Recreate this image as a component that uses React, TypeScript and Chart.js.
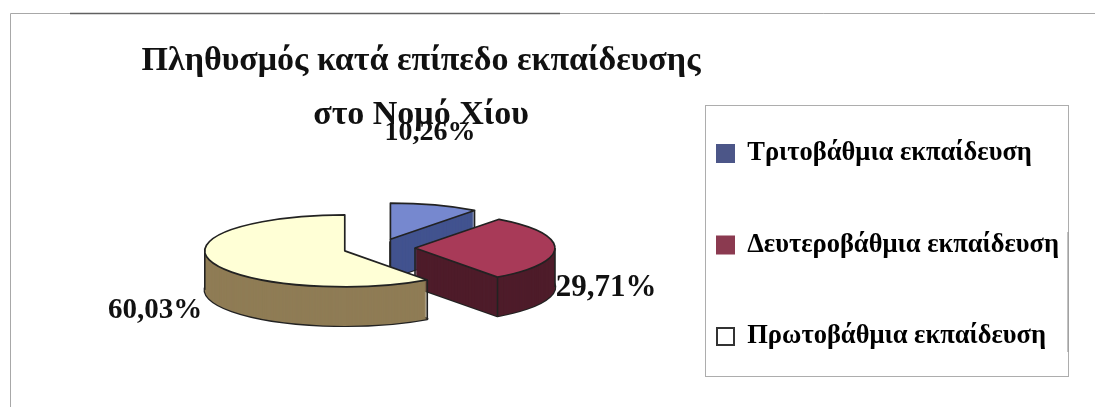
import React, { useEffect, useRef } from "react";
import { Chart, registerables } from "chart.js";

Chart.register(...registerables);

const categories = ["Τριτοβάθμια εκπαίδευση", "Δευτεροβάθμια εκπαίδευση", "Πρωτοβάθμια εκπαίδευση"];
const shares = [10.26, 29.71, 60.03];
const shareLabels = ["10,26%", "29,71%", "60,03%"];
const titleLines = ["Πληθυσμός κατά επίπεδο εκπαίδευσης", "στο Νομό Χίου"];

const topColors = ["#7688cf", "#a83a58", "#ffffd6"];
const wallColors = ["#42538f", "#4e1c2a", "#8f7c55"];
const legendSwatches = ["#4c5688", "#8b3a50", "#ffffff"];
const legendBorders = ["#4c5688", "#8b3a50", "#333333"];

const FONT = "'Liberation Serif', 'Times New Roman', serif";
const CENTER = { x: 379, y: 248 };
const SQUASH = 36 / 140;
const EXPLODE = 36;
const DEPTH = 39;
const LABEL_POS = [
  { x: 430, y: 133, size: 28 },
  { x: 606, y: 288, size: 31 },
  { x: 155, y: 311, size: 29 },
];

const pie3d = {
  id: "pie3d",
  afterLayout(chart: any) {
    const t = chart.titleBlock;
    t.left = 0;
    t.right = 842;
    const l = chart.legend;
    const pad = l.options.labels.padding;
    const dx = 717 - (l.left + pad);
    const dy = 245 - (l.top + l.bottom) / 2;
    l.left += dx;
    l.right += dx;
    l.top += dy;
    l.bottom += dy;
  },
  beforeDatasetsDraw(chart: any) {
    const ctx = chart.ctx as CanvasRenderingContext2D;
    const arcs = chart.getDatasetMeta(0).data;
    arcs.forEach((arc: any, i: number) => {
      const { startAngle, endAngle, outerRadius: r } = arc;
      const mid = (startAngle + endAngle) / 2;
      const cx = CENTER.x + Math.cos(mid) * EXPLODE;
      const cy = CENTER.y + Math.sin(mid) * EXPLODE * SQUASH;
      const ry = r * SQUASH;
      const wedge = (dy: number) => {
        ctx.beginPath();
        ctx.moveTo(cx, cy + dy);
        ctx.ellipse(cx, cy + dy, r, ry, 0, startAngle, endAngle);
        ctx.closePath();
      };
      ctx.save();
      ctx.lineJoin = "round";
      // outline of the lower face
      ctx.strokeStyle = "#222222";
      ctx.lineWidth = 2.4;
      wedge(DEPTH);
      ctx.stroke();
      // side walls
      ctx.fillStyle = wallColors[i];
      for (let d = DEPTH; d >= 0; d--) {
        wedge(d);
        ctx.fill();
      }
      // vertical edges on the visible corners
      ctx.lineWidth = 1.6;
      const vline = (x: number, y: number) => {
        ctx.beginPath();
        ctx.moveTo(x, y);
        ctx.lineTo(x, y + DEPTH);
        ctx.stroke();
      };
      const at = (a: number) => [cx + r * Math.cos(a), cy + ry * Math.sin(a)];
      const startWall = Math.cos(startAngle) < -1e-6;
      const endWall = Math.cos(endAngle) > 1e-6;
      if (startWall || endWall) vline(cx, cy);
      if (startWall || Math.sin(startAngle) > 0) vline(at(startAngle)[0], at(startAngle)[1]);
      if (endWall || Math.sin(endAngle) > 0) vline(at(endAngle)[0], at(endAngle)[1]);
      [0, Math.PI, 2 * Math.PI].forEach((a) => {
        if (a > startAngle && a < endAngle) vline(at(a)[0], at(a)[1]);
      });
      ctx.restore();

      // upper face: the library's own arc, squashed into perspective
      ctx.save();
      ctx.translate(cx, cy);
      ctx.scale(1, SQUASH);
      ctx.translate(-arc.x, -arc.y);
      arc.draw(ctx);
      ctx.restore();

      ctx.save();
      ctx.strokeStyle = "#222222";
      ctx.lineWidth = 1.7;
      ctx.lineJoin = "round";
      wedge(0);
      ctx.stroke();
      ctx.restore();
    });
    return false;
  },
  afterDraw(chart: any) {
    const ctx = chart.ctx as CanvasRenderingContext2D;
    ctx.save();
    // page frame
    ctx.strokeStyle = "#a8a8a8";
    ctx.lineWidth = 1;
    ctx.beginPath();
    ctx.moveTo(10.5, 407);
    ctx.lineTo(10.5, 13.5);
    ctx.lineTo(1095, 13.5);
    ctx.stroke();
    ctx.strokeStyle = "#606060";
    ctx.lineWidth = 1.5;
    ctx.beginPath();
    ctx.moveTo(70, 13.5);
    ctx.lineTo(560, 13.5);
    ctx.stroke();
    // legend frame
    ctx.strokeStyle = "#adadad";
    ctx.lineWidth = 1;
    ctx.strokeRect(705.5, 105.5, 363, 271);
    ctx.strokeStyle = "#9a9a9a";
    ctx.lineWidth = 1.2;
    ctx.beginPath();
    ctx.moveTo(1068, 232);
    ctx.lineTo(1068, 352);
    ctx.stroke();
    // share labels
    ctx.fillStyle = "#111";
    ctx.textAlign = "center";
    ctx.textBaseline = "middle";
    shareLabels.forEach((s, i) => {
      ctx.font = `bold ${LABEL_POS[i].size}px ${FONT}`;
      ctx.fillText(s, LABEL_POS[i].x, LABEL_POS[i].y);
    });
    ctx.restore();
  },
};

export default function App() {
  const ref = useRef<HTMLCanvasElement>(null);
  useEffect(() => {
    document.body.style.margin = "0";
    document.body.style.background = "#ffffff";
    const chart = new Chart(ref.current!, {
      type: "pie",
      data: {
        labels: categories,
        datasets: [{ data: shares, backgroundColor: topColors, borderWidth: 0 }],
      },
      options: {
        animation: false,
        responsive: false,
        radius: 140,
        plugins: {
          tooltip: { enabled: false },
          title: {
            display: true,
            text: titleLines,
            color: "#111",
            font: { family: FONT, size: 34, weight: "bold", lineHeight: 1.57 },
            padding: { top: 35, bottom: 0 },
          },
          legend: {
            position: "right",
            labels: {
              boxWidth: 17,
              boxHeight: 17,
              padding: 65,
              color: "#111",
              font: { family: FONT, size: 26.5, weight: "bold" },
              generateLabels: () =>
                categories.map((text, i) => ({
                  text,
                  fillStyle: legendSwatches[i],
                  strokeStyle: legendBorders[i],
                  lineWidth: 2,
                  index: i,
                })),
            },
          },
        },
      } as any,
      plugins: [pie3d as any],
    });
    return () => chart.destroy();
  }, []);
  return <canvas ref={ref} width={1095} height={407} style={{ display: "block", width: 1095, height: 407, filter: "blur(0.5px)" }} />;
}
